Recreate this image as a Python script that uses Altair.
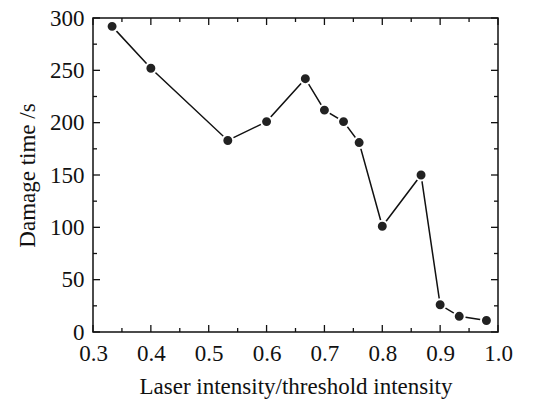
import altair as alt
import pandas as pd

# Data
intensity = [0.333, 0.4, 0.533, 0.6, 0.667, 0.7, 0.733, 0.76, 0.8, 0.867, 0.9, 0.933, 0.98]
damage_time = [292, 252, 183, 201, 242, 212, 201, 181, 101, 150, 26, 15, 11]

x_major = [0.3, 0.4, 0.5, 0.6, 0.7, 0.8, 0.9, 1.0]
x_minor = [0.35, 0.45, 0.55, 0.65, 0.75, 0.85, 0.95]
y_major = [0, 50, 100, 150, 200, 250, 300]
y_minor = [25, 75, 125, 175, 225, 275]

W, H = 405, 314
FONT = "Liberation Serif"

df = pd.DataFrame({"x": intensity, "y": damage_time})

xscale = alt.Scale(domain=[0.3, 1.0], nice=False, zero=False)
yscale = alt.Scale(domain=[0, 300], nice=False, zero=False)

x_axis = alt.Axis(
    title="Laser intensity/threshold intensity", values=x_major, format=".1f",
    ticks=False, domain=False, grid=False, labelFont=FONT, labelFontSize=23,
    labelColor="#111", labelPadding=10, titleFont=FONT, titleFontSize=23,
    titleFontWeight="normal", titleColor="#111", titlePadding=10,
    labelFlush=False,
)
y_axis = alt.Axis(
    title="Damage time /s", values=y_major, ticks=False, domain=False, grid=False,
    labelFont=FONT, labelFontSize=23, labelColor="#111", labelPadding=9,
    titleFont=FONT, titleFontSize=23, titleFontWeight="normal", titleColor="#111",
    titlePadding=10, labelFlush=False,
)

line = alt.Chart(df).mark_line(color="#111", strokeWidth=1.5).encode(
    x=alt.X("x:Q", scale=xscale, axis=x_axis),
    y=alt.Y("y:Q", scale=yscale, axis=y_axis),
)
points = alt.Chart(df).mark_point(
    shape="circle", filled=True, size=120, fill="#222", stroke="white",
    strokeWidth=2, opacity=1,
).encode(x=alt.X("x:Q", scale=xscale), y=alt.Y("y:Q", scale=yscale))

def xticks(vals, length):
    d = pd.DataFrame({"t": vals})
    bottom = alt.Chart(d).mark_rule(color="#111", strokeWidth=1.3).encode(
        x=alt.X("t:Q", scale=xscale), y=alt.value(H), y2=alt.value(H - length))
    top = alt.Chart(d).mark_rule(color="#111", strokeWidth=1.3).encode(
        x=alt.X("t:Q", scale=xscale), y=alt.value(0), y2=alt.value(length))
    return [bottom, top]

def yticks(vals, length):
    d = pd.DataFrame({"t": vals})
    left = alt.Chart(d).mark_rule(color="#111", strokeWidth=1.3).encode(
        y=alt.Y("t:Q", scale=yscale), x=alt.value(0), x2=alt.value(length))
    right = alt.Chart(d).mark_rule(color="#111", strokeWidth=1.3).encode(
        y=alt.Y("t:Q", scale=yscale), x=alt.value(W), x2=alt.value(W - length))
    return [left, right]

layers = (
    [line, points]
    + xticks(x_major, 7) + xticks(x_minor, 4)
    + yticks(y_major, 7) + yticks(y_minor, 4)
)

chart = alt.layer(*layers).properties(
    width=W, height=H,
    autosize=alt.AutoSizeParams(type="none"),
    padding={"left": 93, "top": 18, "right": 46, "bottom": 69},
    background="white",
).configure_view(stroke="#111", strokeWidth=1.5)

chart.save("out.html", embed_options={"renderer": "svg", "actions": False})
